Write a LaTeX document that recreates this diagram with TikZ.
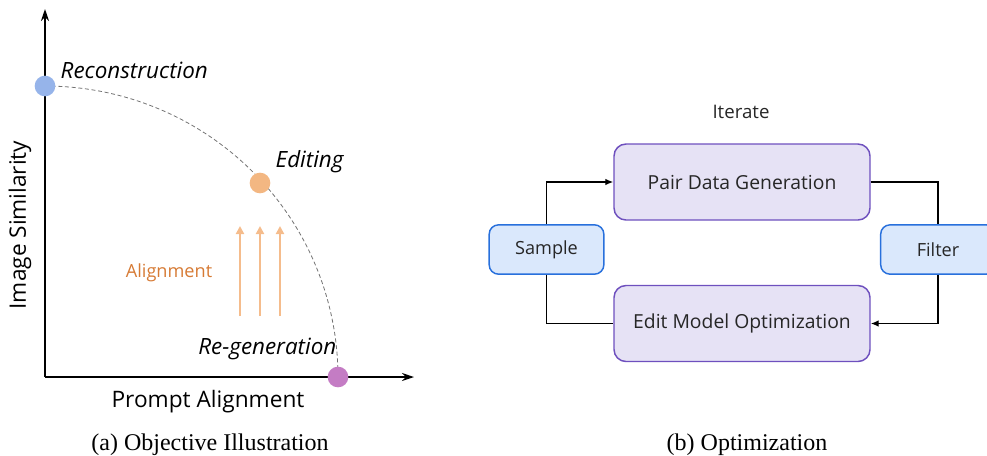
\documentclass[tikz,border=0pt]{standalone}
\usepackage{fontspec}
\setmainfont{Open Sans}
\newfontfamily\capfont{Liberation Serif}
\usetikzlibrary{arrows.meta}
\definecolor{recon}{RGB}{150,180,234}
\definecolor{editc}{RGB}{243,183,130}
\definecolor{regen}{RGB}{196,124,196}
\definecolor{aligntxt}{RGB}{214,122,52}
\definecolor{alignarr}{RGB}{245,188,140}
\definecolor{purpleline}{RGB}{110,80,190}
\definecolor{purplefill}{RGB}{230,226,245}
\definecolor{blueline}{RGB}{40,112,220}
\definecolor{bluefill}{RGB}{218,232,252}
\definecolor{boxtext}{RGB}{38,38,38}
\tikzset{
  bigbox/.style={draw=purpleline, fill=purplefill, line width=1.1pt, rounded corners=9pt,
    minimum width=192pt, minimum height=57pt, text=boxtext, font=\fontsize{14.5}{17}\selectfont},
  smallbox/.style={draw=blueline, fill=bluefill, line width=1.1pt, rounded corners=7pt,
    minimum width=86pt, minimum height=37pt, text=boxtext, font=\fontsize{13.6}{16}\selectfont},
  conn/.style={line width=1pt, black},
  axis/.style={line width=1.1pt, -{Stealth[length=9pt,width=6pt,inset=3pt]}},
  dot/.style={circle, minimum size=15.5pt, inner sep=0pt},
  lab/.style={font=\fontsize{16.8}{20}\selectfont\itshape},
  oarrow/.style={alignarr, line width=1.5pt, -{Triangle[length=6pt,width=6pt]}},
  capt/.style={font=\capfont\fontsize{18}{21}\selectfont, anchor=base, inner sep=0pt}
}
\begin{document}
\begin{tikzpicture}[x=0.75pt,y=-0.75pt]
\useasboundingbox (0,0) rectangle (987,455);
% ---- left panel ----
\coordinate (origin) at (45,377);
\coordinate (ytop) at (45,9);
\coordinate (xend) at (414,377);
\draw[axis] (origin) -- (ytop);
\draw[axis] (origin) -- (xend);
\draw[gray!90!black, line width=0.6pt, dash pattern=on 3pt off 2pt]
  plot[domain=90:0, samples=80, smooth] ({45+293*cos(\x)},{377-291*sin(\x)});
\node[dot, fill=recon] (rec) at (45,86) {};
\node[dot, fill=editc] (edi) at (260,183) {};
\node[dot, fill=regen] (reg) at (338,377) {};
\node[lab, anchor=west] (reclab) at (56,70) {Reconstruction};
\node[lab, anchor=west] (edilab) at (271,162) {Editing};
\node[lab, anchor=east] (reglab) at (341,349) {Re-generation};
\coordinate (a1s) at (240,316); \coordinate (a1e) at (240,226);
\coordinate (a2s) at (260,316); \coordinate (a2e) at (260,226);
\coordinate (a3s) at (280,316); \coordinate (a3e) at (280,226);
\draw[oarrow] (a1s) -- (a1e);
\draw[oarrow] (a2s) -- (a2e);
\draw[oarrow] (a3s) -- (a3e);
\node[text=aligntxt, font=\fontsize{13.6}{16}\selectfont] (alab) at (169,273) {Alignment};
\node[font=\fontsize{17}{20}\selectfont] (xlab) at (208,402) {Prompt Alignment};
\node[font=\fontsize{17}{20}\selectfont, rotate=90] (ylab) at (20,225) {Image Similarity};
\node[capt] (capa) at (210,450) {(a) Objective Illustration};
% ---- right panel ----
\node[font=\fontsize{14}{17}\selectfont, text=boxtext] (iter) at (741,112) {Iterate};
\node[bigbox] (pair) at (742,182) {Pair Data Generation};
\node[bigbox] (edit) at (742,323.5) {Edit Model Optimization};
\node[smallbox] (sample) at (546.5,249.5) {Sample};
\node[smallbox] (filter) at (938,249.5) {Filter};
\draw[conn, -{Latex[length=6pt,width=5pt]}] (sample.north) |- (pair.west);
\draw[conn] (sample.south) |- (edit.west);
\draw[conn] (pair.east) -| (filter.north);
\draw[conn, -{Latex[length=6pt,width=5pt]}] (filter.south) |- (edit.east);
\node[capt] (capb) at (747,450) {(b) Optimization};
\end{tikzpicture}
\end{document}
